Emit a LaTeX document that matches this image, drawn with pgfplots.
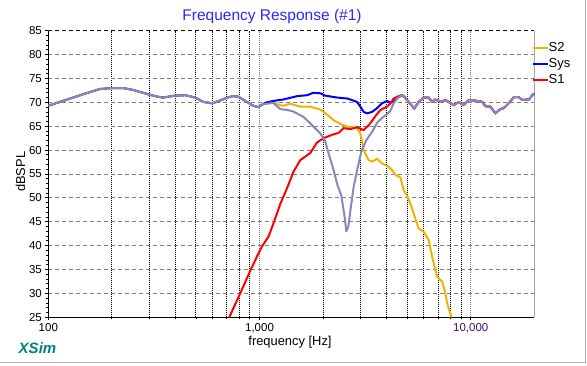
\documentclass[border=0pt]{standalone}
\usepackage{pgfplots}
\pgfplotsset{compat=1.18}
\usepackage{fontspec}
\setmainfont{Liberation Sans}
\definecolor{sTwo}{RGB}{240,180,0}
\definecolor{sSys}{RGB}{0,0,255}
\definecolor{sOne}{RGB}{255,0,0}
\definecolor{sGray}{RGB}{136,136,184}
\definecolor{gridgray}{RGB}{128,128,128}
\definecolor{titleblue}{RGB}{40,40,255}
\definecolor{xsimteal}{RGB}{0,128,128}
\definecolor{tenk}{RGB}{60,20,90}
\begin{document}
\begin{tikzpicture}[x=1bp,y=1bp]
\useasboundingbox (0,0) rectangle (587,365);
\draw[gray!60, line width=1bp] (0,2.3) -- (585,2.3) -- (585,365);
\begin{axis}[
  at={(48.3bp,47.7bp)}, anchor=south west,
  scale only axis, width=486bp, height=286.6bp,
  xmode=log, xmin=100, xmax=20000, ymin=25, ymax=85,
  axis x line*=bottom, axis y line*=left,
  axis line style={black, line width=1.6bp},
  xtick={100,1000,10000},
  xticklabels={100,{1,000},{\color{tenk}10,000}},
  minor xtick={200,300,400,500,600,700,800,900,2000,3000,4000,5000,6000,7000,8000,9000},
  ytick={25,30,35,40,45,50,55,60,65,70,75,80,85},
  minor y tick num=4,
  xmajorgrids, xminorgrids, ymajorgrids,
  major x grid style={gridgray, dash pattern=on 1bp off 1bp, line width=1bp},
  minor x grid style={black, dash pattern=on 1bp off 1bp, line width=1bp},
  major y grid style={gridgray, dash pattern=on 4bp off 3bp, line width=1bp},
  tick align=outside,
  major tick length=3bp, minor tick length=2bp,
  tick style={black, line width=0.8bp},
  tick label style={font=\fontsize{11.5bp}{13bp}\selectfont},
  /pgf/number format/assume math mode=true,
  legend style={at={(0.9947,0.9606)}, anchor=north west, draw=none, fill=none,
    inner sep=0pt, outer sep=0pt, row sep=4.2bp,
    font=\fontsize{13bp}{14bp}\selectfont,
    nodes={inner sep=0pt, text height=9.3bp, text depth=2.7bp},
    /tikz/every even column/.append style={column sep=1.6bp}},
  legend cell align=left,
  legend image code/.code={\draw[#1] (0bp,0bp) -- (15bp,0bp);},
  every axis plot/.append style={line width=2bp, line join=round, mark=none},
]
% S2
\addplot[sTwo] coordinates {
(100,69.3)(123,70.6)(146,71.7)(176,72.8)(203,73.0)(226,73.0)(252,72.6)(297,71.7)(328,71.2)(350,71.0)(396,71.4)(445,71.5)(496,71.0)(541,70.1)(597,69.8)(651,70.4)(703,71.0)(750,71.3)(793,71.2)(856,70.3)(933,69.3)(986,69.0)
(1064,69.9)(1161,70.1)(1253,69.4)(1295,69.3)(1398,69.7)(1559,69.1)(1739,69.1)(1940,68.5)(2094,67.4)(2236,66.3)(2413,65.5)(2604,64.9)(2894,64.6)(3001,63.5)(3111,60.0)(3285,57.9)(3420,57.6)(3601,58.2)(3803,57.2)(4087,56.5)(4242,55.8)(4397,54.8)(4644,54.3)(4814,51.6)(5029,50.2)(5277,47.8)(5470,45.6)(5671,43.6)(5990,42.9)(6323,41.2)(6564,37.7)(6804,34.9)(6932,33.5)(7321,32.5)(7589,30.0)(7732,27.9)(8014,25.7)(8101,25.0)
};
\addlegendentry{S2}
% Sys
\addplot[sSys] coordinates {
(100,69.3)(123,70.6)(146,71.7)(176,72.8)(203,73.0)(226,73.0)(252,72.6)(297,71.7)(328,71.2)(350,71.0)(396,71.4)(445,71.5)(496,71.0)(541,70.1)(597,69.8)(651,70.4)(703,71.0)(750,71.3)(793,71.2)(856,70.3)(933,69.3)(986,69.0)
(1064,69.9)(1161,70.3)(1295,70.6)(1509,71.3)(1683,71.5)(1797,72.0)(1940,71.9)(2049,71.4)(2335,71.0)(2604,70.8)(2691,70.6)(2894,70.1)(3001,69.1)(3111,68.0)(3228,67.7)(3409,68.0)(3601,68.8)(3803,69.8)(4017,70.3)(4163,69.9)(4316,70.3)(4559,71.2)(4731,71.5)
(4814,71.3)(5085,70.1)(5400,68.7)(5671,70.1)(5990,71.0)(6323,71.0)(6564,70.1)(6804,70.6)(7185,70.1)(7589,70.5)(8308,69.4)(8774,70.1)(9265,69.4)(9784,70.5)(10723,70.3)(11324,70.1)(11739,69.2)(12399,69.1)(13093,67.7)(13722,68.5)(14336,68.8)(15138,69.8)(15988,71.1)(16883,71.1)(17521,70.5)(18833,70.6)(19759,71.7)(20000,71.8)
};
\addlegendentry{Sys}
% S1
\addplot[sOne] coordinates {
(719,25.0)(810,30.0)(903,34.7)(972,37.7)(1026,39.8)(1103,41.9)(1165,44.7)(1253,48.7)(1349,52.0)(1449,55.5)(1559,57.9)(1739,59.4)(1871,61.6)(2011,62.5)(2203,63.2)(2368,63.6)(2501,64.6)(2691,64.4)(2894,64.8)(3111,64.2)(3285,65.2)(3420,66.2)(3534,67.1)(3733,68.4)(4017,69.1)(4163,69.8)(4316,70.8)(4559,71.3)(4731,71.5)
(4814,71.3)(5085,70.1)(5400,68.7)(5671,70.1)(5990,71.0)(6323,71.0)(6564,70.1)(6804,70.6)(7185,70.1)(7589,70.5)(8308,69.4)(8774,70.1)(9265,69.4)(9784,70.5)(10723,70.3)(11324,70.1)(11739,69.2)(12399,69.1)(13093,67.7)(13722,68.5)(14336,68.8)(15138,69.8)(15988,71.1)(16883,71.1)(17521,70.5)(18833,70.6)(19759,71.7)(20000,71.8)
};
\addlegendentry{S1}
% reverse-null trace
\addplot[sGray, forget plot] coordinates {
(100,69.3)(123,70.6)(146,71.7)(176,72.8)(203,73.0)(226,73.0)(252,72.6)(297,71.7)(328,71.2)(350,71.0)(396,71.4)(445,71.5)(496,71.0)(541,70.1)(597,69.8)(651,70.4)(703,71.0)(750,71.3)(793,71.2)(856,70.3)(933,69.3)(986,69.0)
(1036,69.6)(1124,69.8)(1161,69.9)(1253,68.6)(1350,68.4)(1444,68.1)(1559,67.3)(1610,67.0)(1739,65.6)(1850,64.4)(1940,63.5)(2040,62.0)(2117,59.5)(2236,56.0)(2335,52.8)(2439,50.5)(2520,46.5)(2576,43.0)(2633,44.0)(2706,48.0)(2790,52.3)(2904,56.0)(3034,59.7)(3205,62.1)(3420,63.9)(3613,65.8)(3815,66.8)(4030,67.6)(4163,68.2)(4316,69.8)(4480,70.8)(4731,71.5)
(4814,71.3)(5085,70.1)(5400,68.7)(5671,70.1)(5990,71.0)(6323,71.0)(6564,70.1)(6804,70.6)(7185,70.1)(7589,70.5)(8308,69.4)(8774,70.1)(9265,69.4)(9784,70.5)(10723,70.3)(11324,70.1)(11739,69.2)(12399,69.1)(13093,67.7)(13722,68.5)(14336,68.8)(15138,69.8)(15988,71.1)(16883,71.1)(17521,70.5)(18833,70.6)(19759,71.7)(20000,71.8)
};
\draw[black, line width=1.4bp] (rel axis cs:1,0) -- (rel axis cs:1,1);
\draw[black, dash pattern=on 4bp off 3bp, line width=1bp] (rel axis cs:0,1) -- (rel axis cs:1,1);
\end{axis}
\node[text=titleblue, font=\fontsize{15.5bp}{17bp}\selectfont] at (272,348.3) {Frequency Response (\#1)};
\node[font=\fontsize{12.9bp}{14bp}\selectfont] at (290,23.3) {frequency [Hz]};
\node[font=\fontsize{12.9bp}{14bp}\selectfont, rotate=90] at (20.5,193.3) {dBSPL};
\node[text=xsimteal, font=\fontsize{15bp}{16bp}\selectfont\bfseries\itshape] at (37.5,17) {XSim};
\end{tikzpicture}
\end{document}
